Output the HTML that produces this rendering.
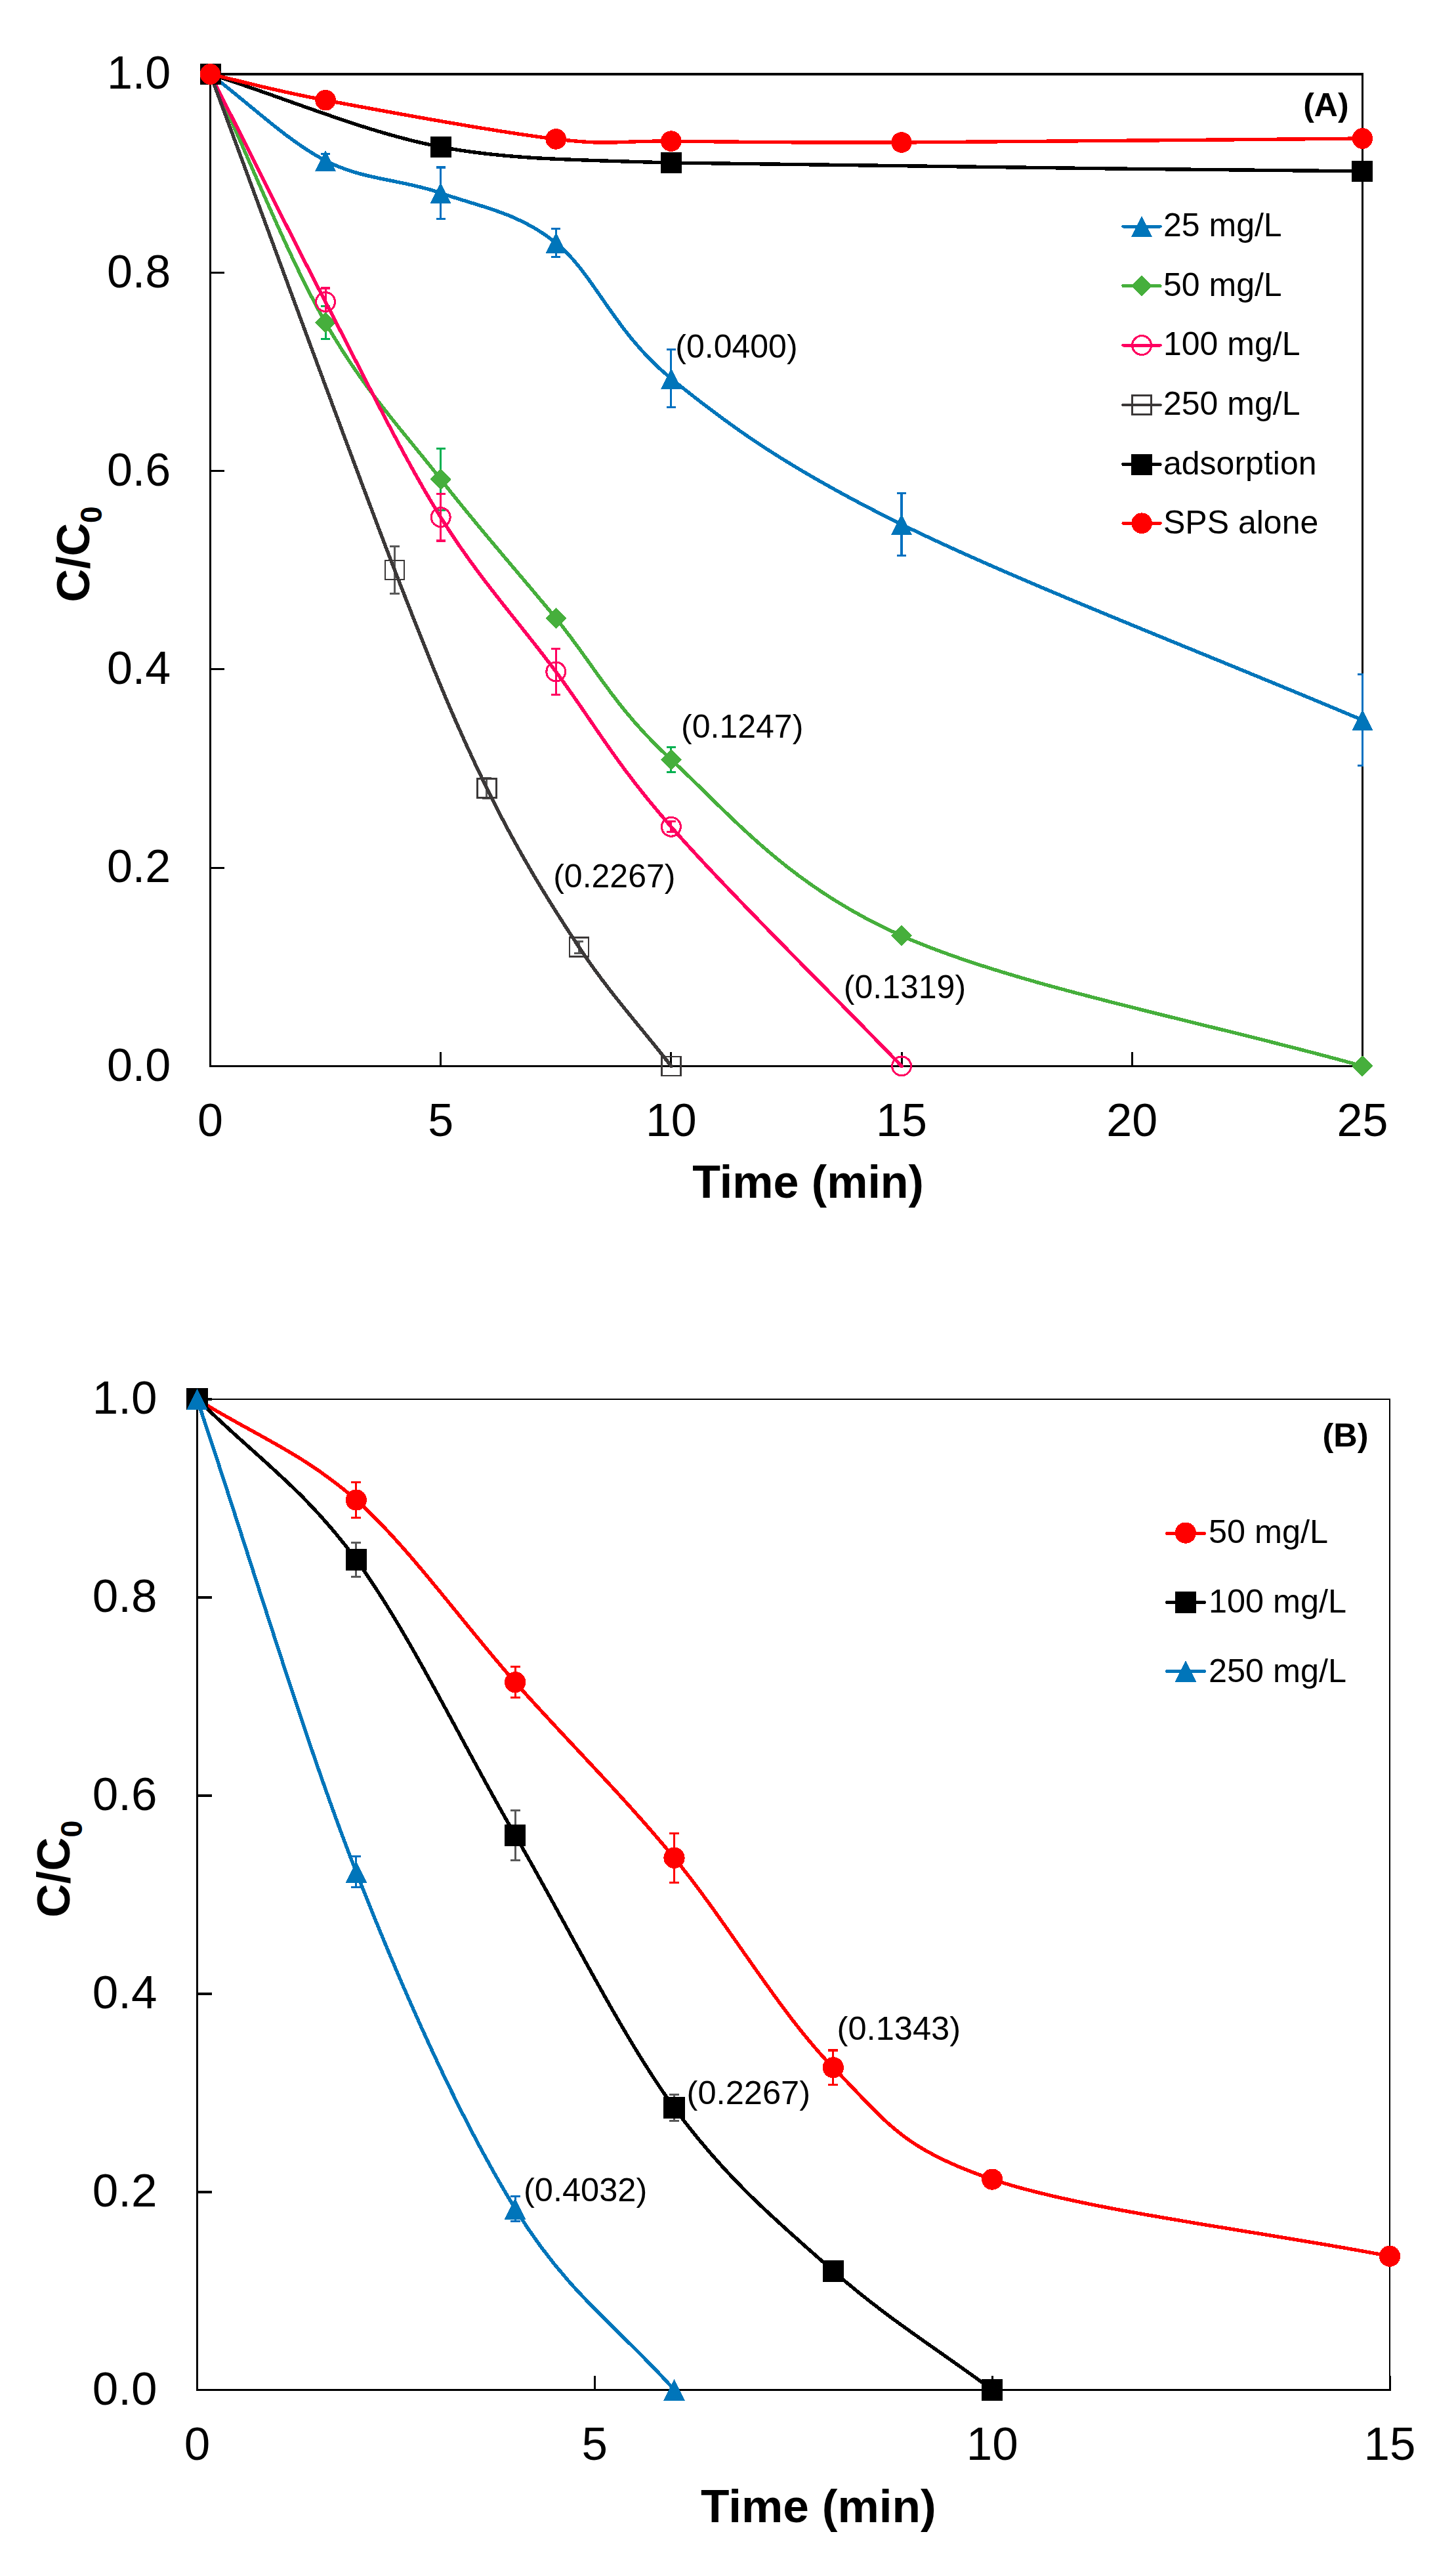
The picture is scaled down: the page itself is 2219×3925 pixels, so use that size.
<!DOCTYPE html>
<html lang="en">
<head>
<meta charset="utf-8">
<title>C/C0 versus time</title>
<style>
html,body{margin:0;padding:0;background:#fff;}
body{width:2219px;height:3925px;overflow:hidden;font-family:"Liberation Sans",sans-serif;}
svg text{fill:#000;}
</style>
</head>
<body>
<svg width="2219" height="3925" viewBox="0 0 2219 3925" style="display:block">
<rect width="2219" height="3925" fill="#fff"/>
<g id="chartA" shape-rendering="crispEdges">
<path d="M320.5 113V1624.4H2076.4V113" fill="none" stroke="#000" stroke-width="3" stroke-linecap="square"/>
<path d="M319 113H2077.9" fill="none" stroke="#000" stroke-width="4"/>
<path d="M320.5 1624.4h21.5 M320.5 1322.12h21.5 M320.5 1019.84h21.5 M320.5 717.56h21.5 M320.5 415.28h21.5 M320.5 113h21.5 M320.5 1624.4v-21.5 M671.68 1624.4v-21.5 M1022.86 1624.4v-21.5 M1374.04 1624.4v-21.5 M1725.22 1624.4v-21.5 M2076.4 1624.4v-21.5" stroke="#000" stroke-width="3" fill="none"/>
<text x="260.2" y="1646.7" font-size="70" font-family="'Liberation Sans', sans-serif" text-anchor="end">0.0</text>
<text x="260.2" y="1344.42" font-size="70" font-family="'Liberation Sans', sans-serif" text-anchor="end">0.2</text>
<text x="260.2" y="1042.14" font-size="70" font-family="'Liberation Sans', sans-serif" text-anchor="end">0.4</text>
<text x="260.2" y="739.86" font-size="70" font-family="'Liberation Sans', sans-serif" text-anchor="end">0.6</text>
<text x="260.2" y="437.58" font-size="70" font-family="'Liberation Sans', sans-serif" text-anchor="end">0.8</text>
<text x="260.2" y="135.3" font-size="70" font-family="'Liberation Sans', sans-serif" text-anchor="end">1.0</text>
<text x="320.5" y="1730.7" font-size="70" font-family="'Liberation Sans', sans-serif" text-anchor="middle">0</text>
<text x="671.68" y="1730.7" font-size="70" font-family="'Liberation Sans', sans-serif" text-anchor="middle">5</text>
<text x="1022.86" y="1730.7" font-size="70" font-family="'Liberation Sans', sans-serif" text-anchor="middle">10</text>
<text x="1374.04" y="1730.7" font-size="70" font-family="'Liberation Sans', sans-serif" text-anchor="middle">15</text>
<text x="1725.22" y="1730.7" font-size="70" font-family="'Liberation Sans', sans-serif" text-anchor="middle">20</text>
<text x="2076.4" y="1730.7" font-size="70" font-family="'Liberation Sans', sans-serif" text-anchor="middle">25</text>
<text x="1231.6" y="1825" font-size="70" font-family="'Liberation Sans', sans-serif" text-anchor="middle" font-weight="bold">Time (min)</text>
<text transform="translate(136.3 917.5) rotate(-90)" font-size="70" font-weight="bold" font-family="'Liberation Sans', sans-serif">C/C<tspan font-size="46" dy="18.5">0</tspan></text>
<path d="M496.09 234.3V255.3 M488.99 234.3H503.19 M488.99 255.3H503.19" fill="none" stroke="#0070C0" stroke-width="3.1"/>
<path d="M671.68 255V333.2 M664.58 255H678.78 M664.58 333.2H678.78" fill="none" stroke="#0070C0" stroke-width="3.1"/>
<path d="M847.27 348.3V391.7 M840.17 348.3H854.37 M840.17 391.7H854.37" fill="none" stroke="#0070C0" stroke-width="3.1"/>
<path d="M1022.86 532.9V620.7 M1015.76 532.9H1029.96 M1015.76 620.7H1029.96" fill="none" stroke="#0070C0" stroke-width="3.1"/>
<path d="M1374.04 751.4V846.6 M1366.94 751.4H1381.14 M1366.94 846.6H1381.14" fill="none" stroke="#0070C0" stroke-width="3.1"/>
<path d="M2076.4 1027.9V1166.5 M2069.3 1027.9H2077.9 M2069.3 1166.5H2077.9" fill="none" stroke="#0070C0" stroke-width="3.1"/>
<path d="M320.5 113 C379.03 156.93 437.56 214.62 496.09 244.8 C554.62 274.98 613.15 273.23 671.68 294.1 C730.21 314.97 788.74 322.88 847.27 370 C905.8 417.12 935.07 505.3 1022.86 576.8 C1110.65 648.3 1198.45 712.27 1374.04 799 C1549.63 885.73 1842.28 997.8 2076.4 1097.2" fill="none" stroke="#0075BA" stroke-width="5.4" stroke-linecap="round" stroke-linejoin="round"/>
<path d="M320.5 97 L336.5 129 L304.5 129 Z" fill="#0075BA"/>
<path d="M496.09 228.8 L512.09 260.8 L480.09 260.8 Z" fill="#0075BA"/>
<path d="M671.68 278.1 L687.68 310.1 L655.68 310.1 Z" fill="#0075BA"/>
<path d="M847.27 354 L863.27 386 L831.27 386 Z" fill="#0075BA"/>
<path d="M1022.86 560.8 L1038.86 592.8 L1006.86 592.8 Z" fill="#0075BA"/>
<path d="M1374.04 783 L1390.04 815 L1358.04 815 Z" fill="#0075BA"/>
<path d="M2076.4 1081.2 L2092.4 1113.2 L2060.4 1113.2 Z" fill="#0075BA"/>
<path d="M496.09 466.1V516.9 M488.99 466.1H503.19 M488.99 516.9H503.19" fill="none" stroke="#00B050" stroke-width="3.1"/>
<path d="M671.68 683.3V777.3 M664.58 683.3H678.78 M664.58 777.3H678.78" fill="none" stroke="#00B050" stroke-width="3.1"/>
<path d="M1022.86 1138.6V1176.2 M1015.76 1138.6H1029.96 M1015.76 1176.2H1029.96" fill="none" stroke="#00B050" stroke-width="3.1"/>
<path d="M320.5 113 C379.03 239.17 437.56 388.62 496.09 491.5 C554.62 594.38 613.15 655.2 671.68 730.3 C730.21 805.4 788.74 870.92 847.27 942.1 C905.8 1013.28 935.07 1076.78 1022.86 1157.4 C1110.65 1238.02 1198.45 1347.97 1374.04 1425.8 C1549.63 1503.63 1842.28 1558.2 2076.4 1624.4" fill="none" stroke="#46AF3C" stroke-width="5.4" stroke-linecap="round" stroke-linejoin="round"/>
<path d="M320.5 98 L335.5 113 L320.5 128 L305.5 113 Z" fill="#46AF3C" stroke="#46AF3C" stroke-width="1.5" stroke-linejoin="round"/>
<path d="M496.09 476.5 L511.09 491.5 L496.09 506.5 L481.09 491.5 Z" fill="#46AF3C" stroke="#46AF3C" stroke-width="1.5" stroke-linejoin="round"/>
<path d="M671.68 715.3 L686.68 730.3 L671.68 745.3 L656.68 730.3 Z" fill="#46AF3C" stroke="#46AF3C" stroke-width="1.5" stroke-linejoin="round"/>
<path d="M847.27 927.1 L862.27 942.1 L847.27 957.1 L832.27 942.1 Z" fill="#46AF3C" stroke="#46AF3C" stroke-width="1.5" stroke-linejoin="round"/>
<path d="M1022.86 1142.4 L1037.86 1157.4 L1022.86 1172.4 L1007.86 1157.4 Z" fill="#46AF3C" stroke="#46AF3C" stroke-width="1.5" stroke-linejoin="round"/>
<path d="M1374.04 1410.8 L1389.04 1425.8 L1374.04 1440.8 L1359.04 1425.8 Z" fill="#46AF3C" stroke="#46AF3C" stroke-width="1.5" stroke-linejoin="round"/>
<path d="M2076.4 1609.4 L2091.4 1624.4 L2076.4 1639.4 L2061.4 1624.4 Z" fill="#46AF3C" stroke="#46AF3C" stroke-width="1.5" stroke-linejoin="round"/>
<path d="M496.09 439V475 M488.99 439H503.19" fill="none" stroke="#FF0060" stroke-width="3.1"/>
<path d="M671.68 752.4V824 M664.58 752.4H678.78 M664.58 824H678.78" fill="none" stroke="#FF0060" stroke-width="3.1"/>
<path d="M847.27 988.5V1058.5 M840.17 988.5H854.37 M840.17 1058.5H854.37" fill="none" stroke="#FF0060" stroke-width="3.1"/>
<path d="M1022.86 1251.8V1267.8 M1015.76 1251.8H1029.96 M1015.76 1267.8H1029.96" fill="none" stroke="#FF0060" stroke-width="3.1"/>
<path d="M320.5 113 C379.03 228.67 437.56 347.47 496.09 460 C554.62 572.53 613.15 694.28 671.68 788.2 C730.21 882.12 788.74 944.9 847.27 1023.5 C905.8 1102.1 935.07 1159.65 1022.86 1259.8 C1110.65 1359.95 1256.98 1502.87 1374.04 1624.4" fill="none" stroke="#FF0060" stroke-width="5.4" stroke-linecap="round" stroke-linejoin="round"/>
<circle cx="320.5" cy="113" r="14.45" fill="none" stroke="#FF0060" stroke-width="3.1"/>
<circle cx="496.09" cy="460" r="14.45" fill="none" stroke="#FF0060" stroke-width="3.1"/>
<circle cx="671.68" cy="788.2" r="14.45" fill="none" stroke="#FF0060" stroke-width="3.1"/>
<circle cx="847.27" cy="1023.5" r="14.45" fill="none" stroke="#FF0060" stroke-width="3.1"/>
<circle cx="1022.86" cy="1259.8" r="14.45" fill="none" stroke="#FF0060" stroke-width="3.1"/>
<circle cx="1374.04" cy="1624.4" r="14.45" fill="none" stroke="#FF0060" stroke-width="3.1"/>
<path d="M601.44 832.2V904.8 M594.34 832.2H608.54 M594.34 904.8H608.54" fill="none" stroke="#595959" stroke-width="3.1"/>
<path d="M741.92 1185.2V1216.8 M734.82 1185.2H749.02 M734.82 1216.8H749.02" fill="none" stroke="#595959" stroke-width="3.1"/>
<path d="M882.39 1434.1V1452.1 M875.29 1434.1H889.49 M875.29 1452.1H889.49" fill="none" stroke="#595959" stroke-width="3.1"/>
<path d="M320.5 113 C414.15 364.83 531.21 687.17 601.44 868.5 C666.63 1036.79 698.46 1112.12 741.92 1201 C788.74 1296.77 835.56 1372.53 882.39 1443.1 C929.21 1513.67 976.04 1563.97 1022.86 1624.4" fill="none" stroke="#3B3838" stroke-width="5.4" stroke-linecap="round" stroke-linejoin="round"/>
<rect x="306" y="98.5" width="29" height="29" fill="none" stroke="#3B3838" stroke-width="2.7"/>
<rect x="586.94" y="854" width="29" height="29" fill="none" stroke="#3B3838" stroke-width="2.7"/>
<rect x="727.42" y="1186.5" width="29" height="29" fill="none" stroke="#3B3838" stroke-width="2.7"/>
<rect x="867.89" y="1428.6" width="29" height="29" fill="none" stroke="#3B3838" stroke-width="2.7"/>
<rect x="1008.36" y="1609.9" width="29" height="29" fill="none" stroke="#3B3838" stroke-width="2.7"/>
<path d="M320.5 113 C437.56 149.97 554.62 201.4 671.68 223.9 C759.65 240.81 846.92 243.37 1022.86 248 C1256.98 254.17 1725.22 256.6 2076.4 260.9" fill="none" stroke="#000000" stroke-width="5.4" stroke-linecap="round" stroke-linejoin="round"/>
<rect x="304.5" y="97" width="32" height="32" fill="#000000"/>
<rect x="655.68" y="207.9" width="32" height="32" fill="#000000"/>
<rect x="1006.86" y="232" width="32" height="32" fill="#000000"/>
<rect x="2060.4" y="244.9" width="32" height="32" fill="#000000"/>
<path d="M320.5 113 C379.03 126.23 408.3 136.22 496.09 152.7 C583.88 169.18 759.48 201.5 847.27 211.9 C934.47 222.23 935.66 214.26 1022.86 215.1 C1110.65 215.95 1198.45 217.68 1374.04 217 C1549.63 216.32 1842.28 213 2076.4 211" fill="none" stroke="#FF0000" stroke-width="5.4" stroke-linecap="round" stroke-linejoin="round"/>
<circle cx="320.5" cy="113" r="15.8" fill="#FF0000"/>
<circle cx="496.09" cy="152.7" r="15.8" fill="#FF0000"/>
<circle cx="847.27" cy="211.9" r="15.8" fill="#FF0000"/>
<circle cx="1022.86" cy="215.1" r="15.8" fill="#FF0000"/>
<circle cx="1374.04" cy="217" r="15.8" fill="#FF0000"/>
<circle cx="2076.4" cy="211" r="15.8" fill="#FF0000"/>
<path d="M1711.75 345.1H1768.35" stroke="#0075BA" stroke-width="4.9" stroke-linecap="round" fill="none"/><path d="M1740.1 329.1 L1756.1 361.1 L1724.1 361.1 Z" fill="#0075BA"/><text x="1773" y="360.4" font-size="50" font-family="'Liberation Sans', sans-serif">25 mg/L</text>
<path d="M1711.75 435.6H1768.35" stroke="#46AF3C" stroke-width="4.9" stroke-linecap="round" fill="none"/><path d="M1740.1 420.6 L1755.1 435.6 L1740.1 450.6 L1725.1 435.6 Z" fill="#46AF3C" stroke="#46AF3C" stroke-width="1.5" stroke-linejoin="round"/><text x="1773" y="450.9" font-size="50" font-family="'Liberation Sans', sans-serif">50 mg/L</text>
<path d="M1711.75 526.1H1768.35" stroke="#FF0060" stroke-width="4.9" stroke-linecap="round" fill="none"/><circle cx="1740.1" cy="526.1" r="14.45" fill="none" stroke="#FF0060" stroke-width="3.1"/><text x="1773" y="541.4" font-size="50" font-family="'Liberation Sans', sans-serif">100 mg/L</text>
<path d="M1711.75 617H1768.35" stroke="#3B3838" stroke-width="4.9" stroke-linecap="round" fill="none"/><rect x="1725.6" y="602.5" width="29" height="29" fill="none" stroke="#3B3838" stroke-width="2.7"/><text x="1773" y="632.3" font-size="50" font-family="'Liberation Sans', sans-serif">250 mg/L</text>
<path d="M1711.75 707.5H1768.35" stroke="#000000" stroke-width="4.9" stroke-linecap="round" fill="none"/><rect x="1724.1" y="691.5" width="32" height="32" fill="#000000"/><text x="1773" y="722.8" font-size="50" font-family="'Liberation Sans', sans-serif">adsorption</text>
<path d="M1711.75 797.2H1768.35" stroke="#FF0000" stroke-width="4.9" stroke-linecap="round" fill="none"/><circle cx="1740.1" cy="797.2" r="15.8" fill="#FF0000"/><text x="1773" y="812.5" font-size="50" font-family="'Liberation Sans', sans-serif">SPS alone</text>
<text x="2020.9" y="176.9" font-size="50" font-family="'Liberation Sans', sans-serif" text-anchor="middle" font-weight="bold">(A)</text>
<text x="1029.3" y="544.7" font-size="50" font-family="'Liberation Sans', sans-serif" text-anchor="start">(0.0400)</text>
<text x="1038.1" y="1124" font-size="50" font-family="'Liberation Sans', sans-serif" text-anchor="start">(0.1247)</text>
<text x="843.2" y="1352" font-size="50" font-family="'Liberation Sans', sans-serif" text-anchor="start">(0.2267)</text>
<text x="1285.8" y="1520.6" font-size="50" font-family="'Liberation Sans', sans-serif" text-anchor="start">(0.1319)</text>
</g>
<g id="chartB" shape-rendering="crispEdges">
<path d="M300.5 2132H2118V3641.4" fill="none" stroke="#000" stroke-width="2"/>
<path d="M300.5 2132V3641.4H2118" fill="none" stroke="#000" stroke-width="3" stroke-linecap="square"/>
<path d="M300.5 3339.52h22.5 M300.5 3037.64h22.5 M300.5 2735.76h22.5 M300.5 2433.88h22.5 M300.5 2132h22.5" stroke="#000" stroke-width="4" fill="none"/>
<path d="M906.33 3641.4v-21.4 M1512.17 3641.4v-21.4 M2118 3641.4v-21.4" stroke="#000" stroke-width="3" fill="none"/>
<text x="239.4" y="3663.5" font-size="71" font-family="'Liberation Sans', sans-serif" text-anchor="end">0.0</text>
<text x="239.4" y="3361.62" font-size="71" font-family="'Liberation Sans', sans-serif" text-anchor="end">0.2</text>
<text x="239.4" y="3059.74" font-size="71" font-family="'Liberation Sans', sans-serif" text-anchor="end">0.4</text>
<text x="239.4" y="2757.86" font-size="71" font-family="'Liberation Sans', sans-serif" text-anchor="end">0.6</text>
<text x="239.4" y="2455.98" font-size="71" font-family="'Liberation Sans', sans-serif" text-anchor="end">0.8</text>
<text x="239.4" y="2154.1" font-size="71" font-family="'Liberation Sans', sans-serif" text-anchor="end">1.0</text>
<text x="300.5" y="3748" font-size="71" font-family="'Liberation Sans', sans-serif" text-anchor="middle">0</text>
<text x="906.33" y="3748" font-size="71" font-family="'Liberation Sans', sans-serif" text-anchor="middle">5</text>
<text x="1512.17" y="3748" font-size="71" font-family="'Liberation Sans', sans-serif" text-anchor="middle">10</text>
<text x="2118" y="3748" font-size="71" font-family="'Liberation Sans', sans-serif" text-anchor="middle">15</text>
<text x="1247.4" y="3842.9" font-size="71.2" font-family="'Liberation Sans', sans-serif" text-anchor="middle" font-weight="bold">Time (min)</text>
<text transform="translate(106.3 2921.8) rotate(-90)" font-size="71" font-weight="bold" font-family="'Liberation Sans', sans-serif">C/C<tspan font-size="46.6" dy="18.7">0</tspan></text>
<path d="M542.83 2258.5V2312.5 M535.33 2258.5H550.33 M535.33 2312.5H550.33" fill="none" stroke="#FF0000" stroke-width="3.1"/>
<path d="M785.17 2539.7V2586.7 M777.67 2539.7H792.67 M777.67 2586.7H792.67" fill="none" stroke="#FF0000" stroke-width="3.1"/>
<path d="M1027.5 2793.3V2868.1 M1020 2793.3H1035 M1020 2868.1H1035" fill="none" stroke="#FF0000" stroke-width="3.1"/>
<path d="M1269.83 3124V3176.6 M1262.33 3124H1277.33 M1262.33 3176.6H1277.33" fill="none" stroke="#FF0000" stroke-width="3.1"/>
<path d="M300.5 2132 C381.28 2183.17 462.06 2213.63 542.83 2285.5 C623.61 2357.37 704.39 2472.33 785.17 2563.2 C865.94 2654.07 946.72 2732.85 1027.5 2830.7 C1108.28 2928.55 1189.06 3068.65 1269.83 3150.3 C1349.98 3231.31 1371.91 3273.07 1512.17 3320.6 C1653.53 3368.5 1916.06 3398.67 2118 3437.7" fill="none" stroke="#FF0000" stroke-width="5.4" stroke-linecap="round" stroke-linejoin="round"/>
<circle cx="300.5" cy="2132" r="16.1" fill="#FF0000"/>
<circle cx="542.83" cy="2285.5" r="16.1" fill="#FF0000"/>
<circle cx="785.17" cy="2563.2" r="16.1" fill="#FF0000"/>
<circle cx="1027.5" cy="2830.7" r="16.1" fill="#FF0000"/>
<circle cx="1269.83" cy="3150.3" r="16.1" fill="#FF0000"/>
<circle cx="1512.17" cy="3320.6" r="16.1" fill="#FF0000"/>
<circle cx="2118" cy="3437.7" r="16.1" fill="#FF0000"/>
<path d="M542.83 2350.5V2402.5 M535.33 2350.5H550.33 M535.33 2402.5H550.33" fill="none" stroke="#595959" stroke-width="3.1"/>
<path d="M785.17 2758.4V2834.2 M777.67 2758.4H792.67 M777.67 2834.2H792.67" fill="none" stroke="#595959" stroke-width="3.1"/>
<path d="M1027.5 3191.5V3231.5 M1020 3191.5H1035 M1020 3231.5H1035" fill="none" stroke="#595959" stroke-width="3.1"/>
<path d="M300.5 2131.4 C381.28 2213.1 462.06 2265.68 542.83 2376.5 C623.61 2487.32 704.39 2657.13 785.17 2796.3 C865.94 2935.47 946.72 3100.85 1027.5 3211.5 C1108.28 3322.15 1189.06 3388.55 1269.83 3460.2 C1350.61 3531.85 1431.39 3581 1512.17 3641.4" fill="none" stroke="#000000" stroke-width="5.4" stroke-linecap="round" stroke-linejoin="round"/>
<rect x="284.2" y="2115.1" width="32.6" height="32.6" fill="#000000"/>
<rect x="526.53" y="2360.2" width="32.6" height="32.6" fill="#000000"/>
<rect x="768.87" y="2780" width="32.6" height="32.6" fill="#000000"/>
<rect x="1011.2" y="3195.2" width="32.6" height="32.6" fill="#000000"/>
<rect x="1253.53" y="3443.9" width="32.6" height="32.6" fill="#000000"/>
<rect x="1495.87" y="3625.1" width="32.6" height="32.6" fill="#000000"/>
<path d="M542.83 2828.7V2875.7 M535.33 2828.7H550.33 M535.33 2875.7H550.33" fill="none" stroke="#0070C0" stroke-width="3.1"/>
<path d="M785.17 3346.3V3384.3 M777.67 3346.3H792.67 M777.67 3384.3H792.67" fill="none" stroke="#0070C0" stroke-width="3.1"/>
<path d="M300.5 2132 C381.28 2372.07 462.06 2646.65 542.83 2852.2 C623.61 3057.75 704.39 3233.77 785.17 3365.3 C865.94 3496.83 946.72 3549.37 1027.5 3641.4" fill="none" stroke="#0075BA" stroke-width="5.4" stroke-linecap="round" stroke-linejoin="round"/>
<path d="M300.5 2115.7 L316.8 2148.3 L284.2 2148.3 Z" fill="#0075BA"/>
<path d="M542.83 2835.9 L559.13 2868.5 L526.53 2868.5 Z" fill="#0075BA"/>
<path d="M785.17 3349 L801.47 3381.6 L768.87 3381.6 Z" fill="#0075BA"/>
<path d="M1027.5 3625.1 L1043.8 3657.7 L1011.2 3657.7 Z" fill="#0075BA"/>
<path d="M1778.45 2336.4H1835.55" stroke="#FF0000" stroke-width="4.9" stroke-linecap="round" fill="none"/><circle cx="1806.9" cy="2335.6" r="16.1" fill="#FF0000"/><text x="1841.9" y="2351.3" font-size="50.4" font-family="'Liberation Sans', sans-serif">50 mg/L</text>
<path d="M1778.45 2441.5H1835.55" stroke="#000000" stroke-width="4.9" stroke-linecap="round" fill="none"/><rect x="1790.6" y="2425.3" width="32.6" height="32.6" fill="#000000"/><text x="1841.9" y="2457.1" font-size="50.4" font-family="'Liberation Sans', sans-serif">100 mg/L</text>
<path d="M1778.45 2546.4H1835.55" stroke="#0075BA" stroke-width="4.9" stroke-linecap="round" fill="none"/><path d="M1806.9 2530.1 L1823.2 2562.7 L1790.6 2562.7 Z" fill="#0075BA"/><text x="1841.9" y="2562.9" font-size="50.4" font-family="'Liberation Sans', sans-serif">250 mg/L</text>
<text x="2050.6" y="2204.3" font-size="50.5" font-family="'Liberation Sans', sans-serif" text-anchor="middle" font-weight="bold">(B)</text>
<text x="1275.6" y="3108.4" font-size="50.6" font-family="'Liberation Sans', sans-serif" text-anchor="start">(0.1343)</text>
<text x="1046.6" y="3205.5" font-size="50.6" font-family="'Liberation Sans', sans-serif" text-anchor="start">(0.2267)</text>
<text x="797.9" y="3353.8" font-size="50.6" font-family="'Liberation Sans', sans-serif" text-anchor="start">(0.4032)</text>
</g>
</svg>
</body>
</html>
